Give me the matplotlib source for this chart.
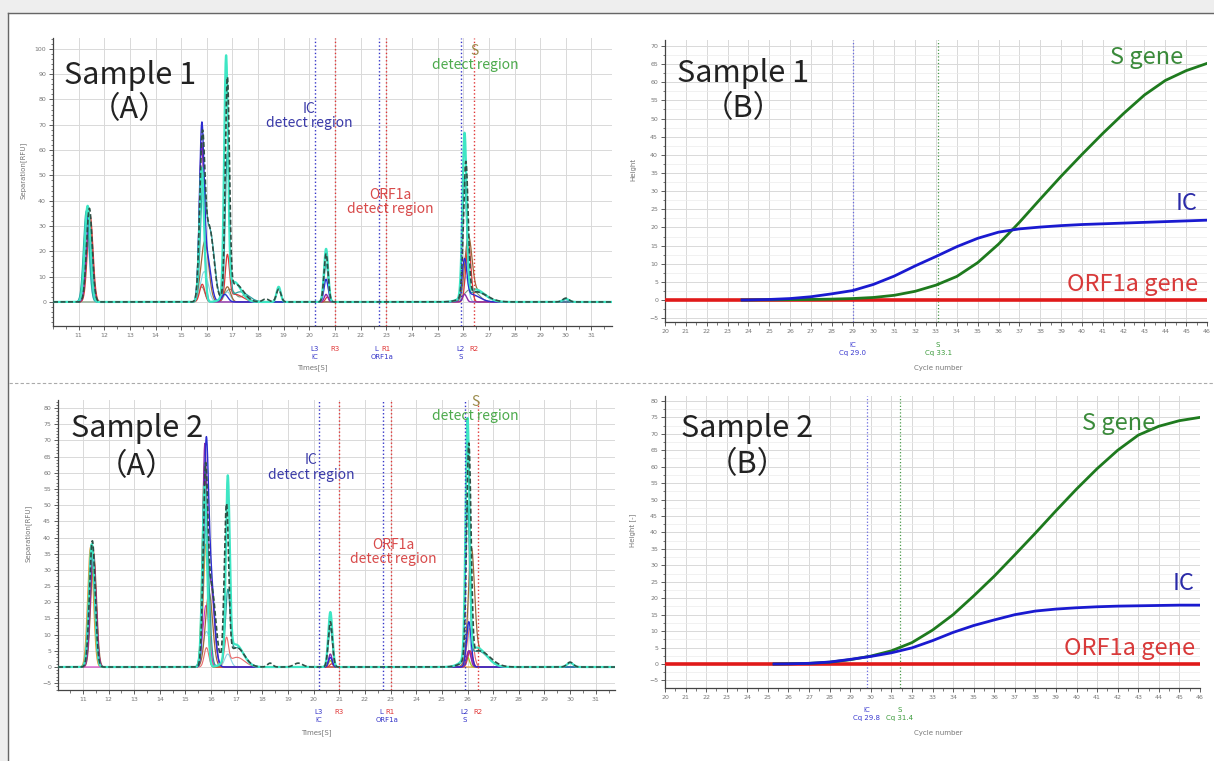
import numpy as np
import matplotlib.pyplot as plt
from matplotlib.ticker import MultipleLocator, FixedLocator
from matplotlib.transforms import blended_transform_factory
from matplotlib.lines import Line2D
from matplotlib.patches import Rectangle

W, H = 1214, 761
JP = ['Noto Sans CJK JP', 'DejaVu Sans']

# ---- qPCR amplification curves (cycle -> height)
S1_CYCLES = [23.7, 24, 25, 26, 27, 28, 29, 30, 31, 32, 33, 34, 35,
             36, 37, 38, 39, 40, 41, 42, 43, 44, 45, 46]
S1_IC = [0, 0.02, 0.15, 0.4, 0.9, 1.7, 2.6, 4.3, 6.6, 9.4, 12.0, 14.7, 17.0,
         18.7, 19.6, 20.1, 20.5, 20.8, 21.0, 21.2, 21.4, 21.6, 21.8, 22.0]
S1_S = [0, 0, 0.05, 0.1, 0.15, 0.25, 0.4, 0.7, 1.3, 2.4, 4.1, 6.5, 10.3,
        15.4, 21.4, 27.8, 34.1, 40.1, 45.9, 51.4, 56.5, 60.5, 63.2, 65.2]

S2_CYCLES = [25.3, 26, 27, 28, 29, 30, 31, 32, 33, 34, 35, 36, 37,
             38, 39, 40, 41, 42, 43, 44, 45, 46]
S2_IC = [0, 0.05, 0.2, 0.6, 1.4, 2.3, 3.4, 4.9, 7.1, 9.6, 11.7, 13.4, 15.0,
         16.1, 16.7, 17.1, 17.4, 17.6, 17.7, 17.8, 17.9, 17.9]
S2_S = [0, 0.05, 0.2, 0.55, 1.3, 2.4, 4.0, 6.5, 10.3, 15.0, 20.7, 26.7, 33.2,
        39.8, 46.6, 53.2, 59.4, 65.0, 69.6, 72.3, 74.0, 75.0]

ORF1A_CYCLES = [20, 46]
ORF1A_LEVEL = [0, 0]

S1_CQ = {'IC': 29.0, 'S': 33.1}
S2_CQ = {'IC': 29.8, 'S': 31.4}

# ---- electropherogram peaks per trace: (time, height, width)
S1_PEAKS = {
    'gray': [(15.8, 6, 0.12), (16.9, 5, 0.22), (17.5, 2.5, 0.15), (26.3, 5, 0.28)],
    'lightcyan': [(11.3, 30, 0.11), (15.9, 12, 0.15), (16.8, 4, 0.12), (26.1, 10, 0.1)],
    'brown': [(11.42, 33, 0.11), (15.92, 24, 0.15), (16.8, 6, 0.12),
              (26.2, 24, 0.14), (26.6, 4, 0.32)],
    'red': [(11.45, 34, 0.11), (15.82, 7, 0.1), (16.8, 17, 0.08), (17.1, 3, 0.3),
            (20.7, 2, 0.07), (26.2, 23, 0.1)],
    'purple': [(11.4, 30, 0.11), (15.8, 63, 0.09), (20.65, 3, 0.07), (26.05, 3, 0.08)],
    'teal': [(11.3, 36, 0.11), (15.85, 42, 0.1), (16.12, 28, 0.17), (16.8, 58, 0.08),
             (17.3, 4, 0.32), (20.65, 15, 0.08), (26.05, 47, 0.08), (26.5, 4, 0.38)],
    'blue': [(11.35, 34, 0.11), (15.8, 66, 0.09), (16.02, 17, 0.14), (16.7, 3, 0.12),
             (20.65, 9, 0.08), (26.05, 15, 0.09), (26.3, 3, 0.32), (30.0, 1.0, 0.12)],
    'turquoise': [(11.35, 38, 0.11), (15.8, 53, 0.09), (16.75, 93, 0.075),
                  (17.05, 8, 0.28), (18.8, 6, 0.08), (20.65, 21, 0.08),
                  (26.05, 64, 0.08), (26.45, 5, 0.38), (30.0, 1.2, 0.12)],
    'dark': [(11.42, 37, 0.11), (15.82, 60, 0.1), (16.1, 29, 0.17), (16.8, 85, 0.08),
             (17.12, 7, 0.3), (18.3, 1.2, 0.12), (18.8, 5, 0.09), (20.65, 19, 0.08),
             (26.1, 53, 0.09), (26.5, 4, 0.42), (30.0, 1.5, 0.12)],
}

S2_PEAKS = {
    'orange': [(11.3, 37, 0.11), (15.8, 38, 0.1)],
    'lightcyan': [(11.35, 35, 0.11), (15.82, 11, 0.14), (16.65, 4, 0.12), (26.0, 13, 0.1)],
    'magenta': [(15.8, 19, 0.12), (26.05, 5, 0.1)],
    'brown': [(11.42, 35, 0.11), (15.92, 23, 0.14), (26.15, 34, 0.12), (26.5, 5, 0.32)],
    'lightred': [(11.35, 37, 0.11), (15.82, 6, 0.09), (16.6, 8, 0.08),
                 (17.0, 3, 0.3), (26.1, 12, 0.12)],
    'yellowgreen': [(11.35, 38, 0.11), (15.75, 63, 0.09), (20.65, 2, 0.07), (26.0, 3, 0.08)],
    'red': [(11.4, 36, 0.11), (15.75, 59, 0.09), (20.7, 1, 0.07), (26.1, 5, 0.09)],
    'purple': [(11.4, 35, 0.11), (15.75, 62, 0.08), (15.98, 26, 0.14),
               (20.65, 4, 0.07), (26.05, 5, 0.08)],
    'blue': [(11.35, 37, 0.11), (15.8, 58, 0.09), (15.98, 28, 0.14),
             (20.65, 3, 0.07), (26.05, 14, 0.09)],
    'teal': [(11.35, 38, 0.11), (15.8, 43, 0.12), (16.65, 21, 0.09), (17.0, 6, 0.3),
             (20.65, 12, 0.08), (26.0, 48, 0.08), (26.4, 5, 0.38)],
    'turquoise': [(11.35, 38, 0.11), (15.75, 56, 0.09), (16.65, 55, 0.075),
                  (16.95, 7, 0.3), (20.65, 17, 0.08), (26.0, 73, 0.075),
                  (26.35, 6, 0.38), (30.0, 1.3, 0.12)],
    'dark': [(11.37, 39, 0.11), (15.78, 55, 0.09), (16.02, 24, 0.16), (16.6, 48, 0.085),
             (17.0, 6, 0.3), (18.3, 1.2, 0.1), (19.4, 1.2, 0.17), (20.65, 14, 0.08),
             (26.05, 66, 0.085), (26.45, 5, 0.42), (30.0, 1.5, 0.12)],
}

# detect-region boundaries (time)
REGION_LINES = [('L3', 20.2, 'blue'), ('R3', 21.0, 'red'), ('L1', 22.7, 'blue'),
                ('R1', 23.0, 'red'), ('L2', 25.9, 'blue'), ('R2', 26.4, 'red')]

TRACE_STYLE = {
    'gray': ('#7a9a7a', '-', 0.8),
    'lightcyan': ('#8ad6e6', '-', 0.8),
    'brown': ('#a0683a', '-', 0.9),
    'red': ('#d83a3a', '-', 0.9),
    'lightred': ('#e86a6a', '-', 0.8),
    'purple': ('#8a2aa8', '-', 1.0),
    'magenta': ('#d030c0', '-', 0.8),
    'orange': ('#e49a30', '-', 0.9),
    'yellowgreen': ('#a8c828', '-', 1.0),
    'teal': ('#2aa0a0', '-', 0.9),
    'blue': ('#2c2cd0', '-', 1.0),
    'turquoise': ('#3ee6c4', '-', 1.6),
    'dark': ('#2d4f45', (0, (3, 1.5)), 1.2),
}
LINE_BLUE = '#3535c8'
LINE_RED = '#e03535'
TICK_GRAY = '#777777'


def fx(p):
    return p / W


def fy(p):
    return 1 - p / H


def make_axes(fig, l, t, r, b):
    return fig.add_axes([l / W, 1 - b / H, (r - l) / W, (b - t) / H])


def style_axes(ax, xlim, ylim, xticks, xminor, ystep, yminor, ytop, ygrid_minor):
    ax.set_xlim(*xlim)
    ax.set_ylim(*ylim)
    ax.xaxis.set_major_locator(FixedLocator(xticks))
    ax.xaxis.set_minor_locator(MultipleLocator(xminor))
    ax.yaxis.set_major_locator(FixedLocator(np.arange(-5 if ystep == 5 else 0, ytop + 1, ystep)))
    ax.yaxis.set_minor_locator(MultipleLocator(yminor))
    ax.grid(which='major', color='#d9d9d9', lw=0.7)
    if ygrid_minor:
        ax.grid(which='minor', axis='y', color='#ececec', lw=0.5)
    ax.set_axisbelow(True)
    for s in ['top', 'right']:
        ax.spines[s].set_visible(False)
    for s in ['left', 'bottom']:
        ax.spines[s].set_color('#444444')
        ax.spines[s].set_linewidth(0.9)
    ax.tick_params(which='major', labelsize=4.5, labelcolor=TICK_GRAY,
                   color='#444444', length=3, width=0.6, pad=2)
    ax.tick_params(which='minor', color='#444444', length=1.8, width=0.5)


def draw_peaks(ax, peaks, xlim):
    x = np.linspace(xlim[0], xlim[1], 3000)
    for name, plist in peaks.items():
        y = np.zeros_like(x)
        for c, h, w in plist:
            y += h * np.exp(-0.5 * ((x - c) / w) ** 2)
        color, ls, lw = TRACE_STYLE[name]
        ax.plot(x, y, color=color, ls=ls, lw=lw, zorder=3)


def electro_panel(fig, box, xlim, ylim, ystep, ytop, peaks, txt, label_rows):
    ax = make_axes(fig, *box)
    style_axes(ax, xlim, ylim, np.arange(11, 32), 0.5, ystep, ystep / 5, ytop, False)
    draw_peaks(ax, peaks, xlim)
    for name, xv, col in REGION_LINES:
        ax.axvline(xv, color=LINE_BLUE if col == 'blue' else LINE_RED,
                   ls=':', lw=1.0, zorder=4)
    tr = blended_transform_factory(ax.transData, fig.transFigure)
    r1, r2, xl = label_rows
    small = dict(fontsize=5, ha='center', va='center', transform=tr)
    ax.text(20.2, fy(r1), 'L3', color=LINE_BLUE, **small)
    ax.text(20.2, fy(r2), 'IC', color=LINE_BLUE, **small)
    ax.text(21.0, fy(r1), 'R3', color=LINE_RED, **small)
    ax.text(22.62, fy(r1), 'L', color=LINE_BLUE, **small)
    ax.text(22.98, fy(r1), 'R1', color=LINE_RED, **small)
    ax.text(22.85, fy(r2), 'ORF1a', color=LINE_BLUE, **small)
    ax.text(25.9, fy(r1), 'L2', color=LINE_BLUE, **small)
    ax.text(26.4, fy(r1), 'R2', color=LINE_RED, **small)
    ax.text(25.9, fy(r2), 'S', color=LINE_BLUE, **small)
    fig.text(fx((box[0] + box[2]) / 2 - 20), fy(xl), 'Times[S]', fontsize=5,
             color=TICK_GRAY, ha='center', va='center')
    fig.text(fx(box[0] - 30), fy((box[1] + box[3]) / 2 - 12), 'Separation[RFU]',
             fontsize=5, color=TICK_GRAY, rotation=90, ha='center', va='center')
    sample, sx, sy, ay, ic_xy, orf_xy, s_xy = txt
    ax.text(sx, sy, sample, family=JP, fontsize=22, color='#222222',
            ha='center', va='center', zorder=6)
    ax.text(sx, ay, '（A）', family=JP, fontsize=22, color='#222222',
            ha='center', va='center', zorder=6)
    ax.text(*ic_xy, 'IC\ndetect region', family=JP, fontsize=10, color='#3a3aa8',
            ha='center', va='center', linespacing=1.05, zorder=6)
    ax.text(*orf_xy, 'ORF1a\ndetect region', family=JP, fontsize=10, color='#d84a4a',
            ha='center', va='center', linespacing=1.05, zorder=6)
    ax.text(s_xy[0], s_xy[1], 'S', family=JP, fontsize=10, color='#9a8a4a',
            ha='center', va='bottom', zorder=6)
    ax.text(s_xy[0], s_xy[1], 'detect region', family=JP, fontsize=10, color='#4caa4c',
            ha='center', va='top', zorder=6)
    return ax


def qpcr_panel(fig, box, ylim, ytop, curves, cq, txt, label_rows, ylabel):
    ax = make_axes(fig, *box)
    style_axes(ax, (20, 46), ylim, np.arange(20, 47), 0.5, 5, 2.5, ytop, True)
    cyc, ic, s = curves
    ax.plot(ORF1A_CYCLES, ORF1A_LEVEL, color='#e01a1a', lw=2.6, zorder=3)
    ax.plot(cyc, s, color='#1e7a1e', lw=2.0, zorder=4)
    ax.plot(cyc, ic, color='#1a1ad0', lw=2.0, zorder=5)
    ax.axvline(cq['IC'], color='#6a6ae0', ls=':', lw=0.9, zorder=2)
    ax.axvline(cq['S'], color='#4a9a4a', ls=':', lw=0.9, zorder=2)
    tr = blended_transform_factory(ax.transData, fig.transFigure)
    r1, r2, xl = label_rows
    small = dict(fontsize=5, ha='center', va='center', transform=tr)
    ax.text(cq['IC'], fy(r1), 'IC', color='#3a3ad0', **small)
    ax.text(cq['IC'], fy(r2), 'Cq %.1f' % cq['IC'], color='#3a3ad0', **small)
    ax.text(cq['S'], fy(r1), 'S', color='#3a9a3a', **small)
    ax.text(cq['S'], fy(r2), 'Cq %.1f' % cq['S'], color='#3a9a3a', **small)
    fig.text(fx(938), fy(xl), 'Cycle number', fontsize=5, color=TICK_GRAY,
             ha='center', va='center')
    fig.text(fx(box[0] - 32), fy((box[1] + box[3]) / 2 - 12), ylabel, fontsize=5,
             color=TICK_GRAY, rotation=90, ha='center', va='center')
    sample, sx, sy, by, sg_xy, ic_xy, orf_xy = txt
    ax.text(sx, sy, sample, family=JP, fontsize=22, color='#222222',
            ha='center', va='center', zorder=6)
    ax.text(sx, by, '（B）', family=JP, fontsize=22, color='#222222',
            ha='center', va='center', zorder=6)
    ax.text(*sg_xy, 'S gene', family=JP, fontsize=17, color='#3a8a3a',
            ha='center', va='center', zorder=6)
    ax.text(*ic_xy, 'IC', family=JP, fontsize=17, color='#2a2aa8',
            ha='center', va='center', zorder=6)
    ax.text(*orf_xy, 'ORF1a gene', family=JP, fontsize=17, color='#d83a3a',
            ha='center', va='center', zorder=6)
    return ax


fig = plt.figure(figsize=(W / 100, H / 100), dpi=100)
fig.patch.set_facecolor('white')
fig.patches.append(Rectangle((0, fy(13)), 1, 13 / H, transform=fig.transFigure,
                             color='#eeeeee', zorder=0))
fig.patches.append(Rectangle((0, 0), fx(8), 1, transform=fig.transFigure,
                             color='#eeeeee', zorder=0))
fig.add_artist(Line2D([fx(8), 1], [fy(13), fy(13)], color='#666666', lw=1.0))
fig.add_artist(Line2D([fx(8), fx(8)], [0, fy(13)], color='#666666', lw=1.0))
fig.add_artist(Line2D([fx(9), 1], [fy(383), fy(383)], color='#aaaaaa', lw=0.8,
                      ls=(0, (3, 2))))

electro_panel(fig, (53, 38, 612, 326), (10.0, 31.8), (-9.5, 104.3), 10, 100, S1_PEAKS,
              ('Sample 1', 13.0, 89.5, 76.0, (20.0, 73.5), (23.15, 39.5), (26.45, 96.5)),
              (349, 357, 368))
electro_panel(fig, (58, 400, 615, 690), (10.03, 31.75), (-7.1, 82.5), 5, 80, S2_PEAKS,
              ('Sample 2', 13.1, 73.8, 62.0, (19.9, 61.7), (23.1, 35.5), (26.3, 79.6)),
              (712, 720, 733))
qpcr_panel(fig, (665, 40, 1207, 322), (-6.06, 71.65), 70, (S1_CYCLES, S1_IC, S1_S), S1_CQ,
           ('Sample 1', 23.75, 62.5, 52.8, (43.1, 66.7), (45.0, 26.7), (42.45, 4.4)),
           (345, 353, 368), 'Height')
qpcr_panel(fig, (665, 396, 1200, 688), (-7.3, 81.5), 80, (S2_CYCLES, S2_IC, S2_S), S2_CQ,
           ('Sample 2', 24.0, 71.7, 60.5, (42.05, 73.0), (45.2, 24.6), (42.6, 4.6)),
           (710, 718, 733), 'Height [-]')

fig.savefig('out.png', dpi=100, facecolor='white')
